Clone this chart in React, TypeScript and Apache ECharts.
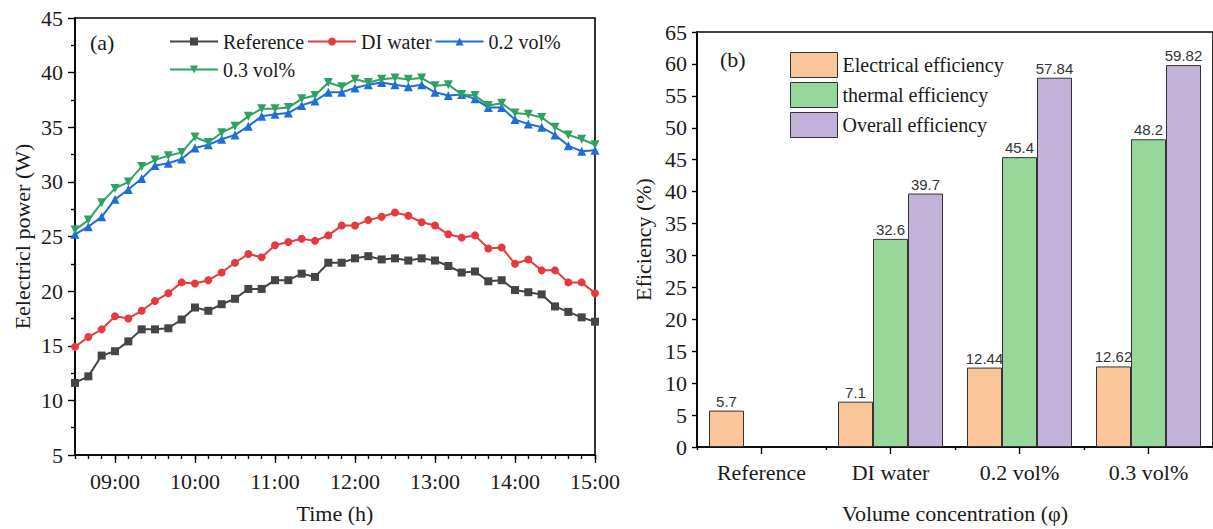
import React, { useEffect, useRef } from "react";
import * as echarts from "echarts";

// ---------- Data: panel (a) ----------
const times = [
  "08:30", "08:40", "08:50", "09:00", "09:10", "09:20", "09:30", "09:40", "09:50", "10:00",
  "10:10", "10:20", "10:30", "10:40", "10:50", "11:00", "11:10", "11:20", "11:30", "11:40",
  "11:50", "12:00", "12:10", "12:20", "12:30", "12:40", "12:50", "13:00", "13:10", "13:20",
  "13:30", "13:40", "13:50", "14:00", "14:10", "14:20", "14:30", "14:40", "14:50", "15:00",
];
const referencePower = [
  11.6, 12.2, 14.1, 14.5, 15.4, 16.5, 16.5, 16.6, 17.4, 18.5,
  18.2, 18.8, 19.3, 20.2, 20.2, 21.0, 21.0, 21.6, 21.3, 22.6,
  22.6, 23.0, 23.2, 22.9, 23.0, 22.8, 23.0, 22.8, 22.3, 21.7,
  21.8, 20.9, 21.0, 20.1, 19.9, 19.7, 18.6, 18.1, 17.6, 17.2,
];
const diWaterPower = [
  14.9, 15.8, 16.5, 17.7, 17.5, 18.2, 19.1, 19.8, 20.8, 20.7,
  21.0, 21.7, 22.6, 23.4, 23.1, 24.2, 24.5, 24.8, 24.6, 25.1,
  26.0, 26.0, 26.5, 26.8, 27.2, 26.9, 26.3, 26.0, 25.2, 24.9,
  25.1, 23.9, 24.0, 22.5, 22.9, 21.9, 21.9, 20.8, 20.8, 19.8,
];
const vol02Power = [
  25.2, 25.9, 26.8, 28.4, 29.3, 30.3, 31.5, 31.7, 32.1, 33.1,
  33.4, 33.9, 34.3, 35.1, 36.0, 36.2, 36.3, 37.0, 37.4, 38.2,
  38.2, 38.6, 38.9, 39.1, 38.9, 38.7, 38.9, 38.2, 37.9, 38.0,
  37.6, 36.8, 36.8, 35.7, 35.3, 35.0, 34.3, 33.3, 32.8, 32.9,
];
const vol03Power = [
  25.6, 26.5, 28.1, 29.4, 30.0, 31.4, 32.0, 32.4, 32.7, 34.1,
  33.6, 34.5, 35.1, 36.0, 36.7, 36.7, 36.8, 37.6, 37.9, 39.1,
  38.7, 39.4, 39.1, 39.4, 39.5, 39.4, 39.5, 38.8, 38.9, 38.0,
  37.9, 37.0, 37.2, 36.3, 36.2, 35.9, 35.0, 34.3, 33.9, 33.4,
];
const hourTicks = ["09:00", "10:00", "11:00", "12:00", "13:00", "14:00", "15:00"];

// ---------- Data: panel (b) ----------
const concentrations = ["Reference", "DI water", "0.2 vol%", "0.3 vol%"];
const electricalEff = [5.7, 7.1, 12.44, 12.62];
const thermalEff = [null, 32.6, 45.4, 48.2];
const overallEff = [null, 39.7, 57.84, 59.82];

const SERIF = "'Liberation Serif', 'Times New Roman', serif";
const SANS = "'Liberation Sans', Arial, sans-serif";
const INK = "#1a1a1a";

const toMin = (t: string) => {
  const [h, m] = t.split(":").map((s) => parseInt(s, 10));
  return h * 60 + m;
};
const fmtHour = (v: number) =>
  `${String(Math.floor(v / 60)).padStart(2, "0")}:${String(v % 60).padStart(2, "0")}`;

export default function App() {
  const ref = useRef<HTMLDivElement>(null);

  useEffect(() => {
    if (!ref.current) return;
    const chart = echarts.init(ref.current, undefined, { renderer: "svg" });

    const tMin = toMin(times[0]);
    const tMax = toMin(times[times.length - 1]);
    const hourVals = hourTicks.map(toMin);
    const pts = (arr: number[]) => times.map((t, i) => [toMin(t), arr[i]]);

    const axisLine = { show: true, onZero: false, lineStyle: { color: "#000", width: 1.6 } };
    const tickStyle = { color: "#000", width: 1.4 };

    const lineSeries = (
      name: string,
      arr: number[],
      color: string,
      symbol: string,
      size: number,
      rotate = 0
    ) => ({
      name,
      type: "line",
      xAxisIndex: 0,
      yAxisIndex: 0,
      data: pts(arr),
      symbol,
      symbolSize: size,
      symbolRotate: rotate,
      lineStyle: { color, width: 2 },
      itemStyle: { color },
      z: 3,
    });

    const barSeries = (name: string, arr: (number | null)[], color: string) => ({
      name,
      type: "bar",
      xAxisIndex: 2,
      yAxisIndex: 1,
      data: arr,
      barWidth: 35,
      barGap: "0%",
      itemStyle: { color, borderColor: "#333", borderWidth: 1 },
      label: {
        show: true,
        position: "top",
        distance: 2,
        fontFamily: SANS,
        fontSize: 15,
        color: "#333",
      },
    });

    chart.setOption({
      animation: false,
      backgroundColor: "#fff",
      textStyle: { fontFamily: SERIF, color: INK },
      grid: [
        { left: 75, right: 618, top: 18, bottom: 74, show: true, borderColor: "#000", borderWidth: 1.6, backgroundColor: "transparent" },
        { left: 697, right: -3, top: 32, bottom: 79, show: true, borderColor: "#000", borderWidth: 1.6, backgroundColor: "transparent" },
      ],
      legend: [
        {
          data: ["Reference", "DI water", "0.2 vol%", "0.3 vol%"],
          left: 164,
          top: 24,
          width: 400,
          orient: "horizontal",
          itemWidth: 48,
          itemHeight: 10,
          itemGap: 3,
          textStyle: { fontFamily: SERIF, fontSize: 20, color: INK, lineHeight: 25 },
        },
        {
          data: ["Electrical efficiency", "thermal efficiency", "Overall efficiency"],
          left: 785,
          top: 47,
          orient: "vertical",
          itemWidth: 47,
          itemHeight: 25,
          itemGap: 4,
          icon: "rect",
          itemStyle: { borderColor: "#333", borderWidth: 1 },
          textStyle: { fontFamily: SERIF, fontSize: 20, color: INK },
        },
      ],
      xAxis: [
        {
          gridIndex: 0,
          type: "value",
          position: "bottom",
          min: tMin,
          max: tMax,
          axisLine,
          axisTick: { show: true, length: 8, lineStyle: tickStyle, customValues: hourVals },
          axisLabel: {
            customValues: hourVals,
            formatter: (v: number) => fmtHour(v),
            fontFamily: SERIF,
            fontSize: 22,
            color: INK,
            margin: 15,
          },
          splitLine: { show: false },
          name: "Time (h)",
          nameLocation: "middle",
          nameGap: 47,
          nameTextStyle: { fontFamily: SERIF, fontSize: 22, color: INK },
        },
        {
          gridIndex: 0,
          type: "value",
          position: "bottom",
          min: tMin,
          max: tMax,
          interval: 10,
          axisLine: { show: false, onZero: false },
          axisTick: { show: true, length: 4, lineStyle: tickStyle },
          axisLabel: { show: false },
          splitLine: { show: false },
        },
        {
          gridIndex: 1,
          type: "category",
          position: "bottom",
          data: concentrations,
          axisLine,
          axisTick: { show: true, alignWithLabel: true, length: 7, lineStyle: tickStyle },
          axisLabel: { fontFamily: SERIF, fontSize: 22, color: INK, margin: 14 },
          name: "Volume concentration (φ)",
          nameLocation: "middle",
          nameGap: 55,
          nameTextStyle: { fontFamily: SERIF, fontSize: 22, color: INK },
        },
        {
          gridIndex: 1,
          type: "category",
          position: "bottom",
          data: concentrations,
          axisLine: { show: false, onZero: false },
          axisTick: { show: true, alignWithLabel: false, length: 3, lineStyle: tickStyle },
          axisLabel: { show: false },
        },
      ],
      yAxis: [
        {
          gridIndex: 0,
          type: "value",
          min: 5,
          max: 45,
          interval: 5,
          axisLine,
          axisTick: { show: true, length: 7, lineStyle: tickStyle },
          minorTick: { show: true, splitNumber: 2, length: 4, lineStyle: tickStyle },
          axisLabel: { fontFamily: SERIF, fontSize: 22, color: INK, margin: 12 },
          splitLine: { show: false },
          name: "Eelectricl power (W)",
          nameLocation: "middle",
          nameGap: 42,
          nameTextStyle: { fontFamily: SERIF, fontSize: 22, color: INK },
        },
        {
          gridIndex: 1,
          type: "value",
          min: 0,
          max: 65,
          interval: 5,
          axisLine,
          axisTick: { show: true, length: 5, lineStyle: tickStyle },
          axisLabel: { fontFamily: SERIF, fontSize: 22, color: INK, margin: 10 },
          splitLine: { show: false },
          name: "Eficiency (%)",
          nameLocation: "middle",
          nameGap: 43,
          nameTextStyle: { fontFamily: SERIF, fontSize: 22, color: INK },
        },
      ],
      graphic: [
        { type: "text", left: 90, top: 31, style: { text: "(a)", font: `22px ${SERIF}`, fill: INK } },
        { type: "text", left: 720, top: 48, style: { text: "(b)", font: `22px ${SERIF}`, fill: INK } },
      ],
      series: [
        lineSeries("Reference", referencePower, "#454545", "rect", 8),
        lineSeries("DI water", diWaterPower, "#E53B3F", "circle", 8),
        lineSeries("0.2 vol%", vol02Power, "#1F6ED8", "triangle", 9),
        lineSeries("0.3 vol%", vol03Power, "#2FA263", "triangle", 9, 180),
        barSeries("Electrical efficiency", electricalEff, "#FAC598"),
        barSeries("thermal efficiency", thermalEff, "#98D79A"),
        barSeries("Overall efficiency", overallEff, "#C2B1D8"),
      ],
    });

    return () => chart.dispose();
  }, []);

  return (
    <div
      ref={ref}
      style={{ position: "fixed", left: 0, top: 0, width: 1213, height: 529, background: "#fff" }}
    />
  );
}
